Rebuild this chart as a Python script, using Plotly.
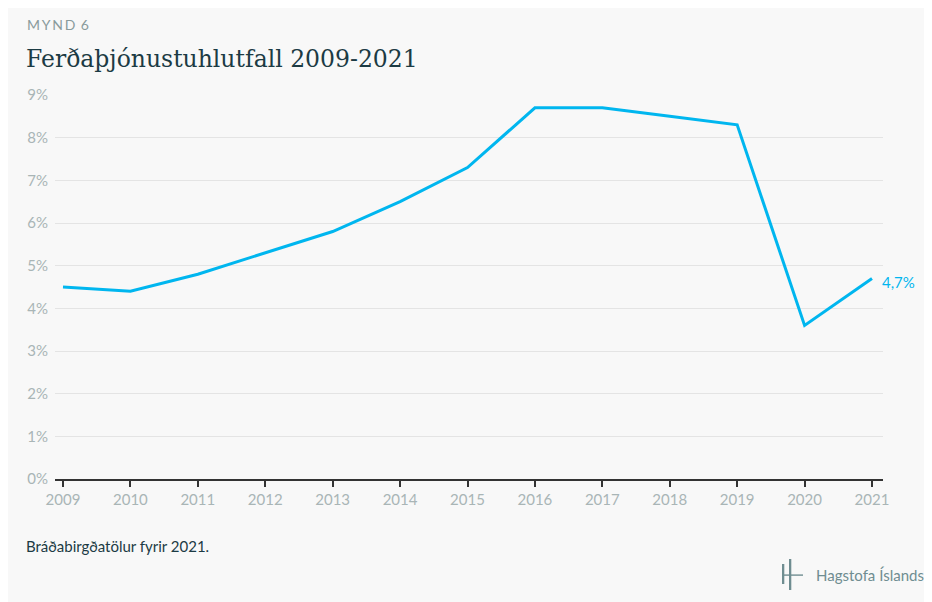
import plotly.graph_objects as go

years = [2009, 2010, 2011, 2012, 2013, 2014, 2015, 2016, 2017, 2018, 2019, 2020, 2021]
share = [4.5, 4.4, 4.8, 5.3, 5.8, 6.5, 7.3, 8.7, 8.7, 8.5, 8.3, 3.6, 4.7]
y_ticks = [0, 1, 2, 3, 4, 5, 6, 7, 8, 9]
y_tick_labels = [f"{v}%" for v in y_ticks]
last_label = "4,7%"

OFF = 8  # page body margin
W, H = 932 - OFF, 602 - OFF
L, R, T, B = 55 - OFF, 49, 95 - OFF, 123
pw, ph = W - L - R, H - T - B

def px(x):
    return (x - OFF - L) / pw

def py(y):
    return 1 - (y - OFF - T) / ph

blue = "#00b6ef"
logo = "#6f8d91"
fig = go.Figure()
fig.add_trace(go.Scatter(x=years, y=share, mode="lines",
                         line=dict(color=blue, width=3), hoverinfo="skip",
                         showlegend=False))

shapes = [
    dict(type="rect", xref="paper", yref="paper", x0=px(782), x1=px(784.3), y0=py(584), y1=py(564),
         fillcolor=logo, line=dict(width=0)),
    dict(type="rect", xref="paper", yref="paper", x0=px(789), x1=px(791.3), y0=py(590), y1=py(559),
         fillcolor=logo, line=dict(width=0)),
    dict(type="rect", xref="paper", yref="paper", x0=px(782), x1=px(803), y0=py(575.8), y1=py(574.4),
         fillcolor=logo, line=dict(width=0)),
]

ts = "\u2009"
annotations = [
    dict(text=ts.join("MYND") + ts + " " + "6", x=px(25), y=py(25), xref="paper", yref="paper",
         xanchor="left", yanchor="middle", showarrow=False,
         font=dict(family="Lato", size=14, color="#8a9b9c")),
    dict(text="Ferðaþjónustuhlutfall 2009-2021", x=px(24), y=py(59), xref="paper", yref="paper",
         xanchor="left", yanchor="middle", showarrow=False,
         font=dict(family="DejaVu Serif", size=23.5, color="#1c3b44")),
    dict(text="Bráðabirgðatölur fyrir 2021.", x=px(24), y=py(546), xref="paper", yref="paper",
         xanchor="left", yanchor="middle", showarrow=False,
         font=dict(family="Lato", size=15, color="#1c3b44")),
    dict(text="Hagstofa Íslands", x=px(814), y=py(575), xref="paper", yref="paper",
         xanchor="left", yanchor="middle", showarrow=False,
         font=dict(family="Lato", size=15, color=logo)),
    dict(text=last_label, x=years[-1], y=share[-1], xref="x", yref="y", xanchor="left",
         yanchor="middle", xshift=8, yshift=-4, showarrow=False,
         font=dict(family="Lato", size=15, color=blue)),
]

step = (872 - 63) / 12
x0 = 2009 - (63 - 55) / step
x1 = 2021 + (883 - 872) / step

fig.update_layout(
    width=W, height=H, margin=dict(l=L, r=R, t=T, b=B),
    paper_bgcolor="#f8f8f8", plot_bgcolor="#f8f8f8",
    shapes=shapes, annotations=annotations,
    xaxis=dict(range=[x0, x1], tickmode="array", tickvals=years, ticktext=[str(y) for y in years],
               showgrid=False, zeroline=False, showline=True, linecolor="#333333", linewidth=1.5,
               ticks="outside", ticklen=6, tickcolor="#333333", tickwidth=1.5,
               tickfont=dict(family="Lato", size=15, color="#a9b5b6")),
    yaxis=dict(range=[0, 9], tickmode="array", tickvals=y_ticks, ticktext=y_tick_labels,
               showgrid=True, gridcolor="#e4e4e4", gridwidth=1, zeroline=False,
               ticks="", ticklabelstandoff=6,
               tickfont=dict(family="Lato", size=15, color="#a9b5b6")),
)

fig.write_html("out.html")
